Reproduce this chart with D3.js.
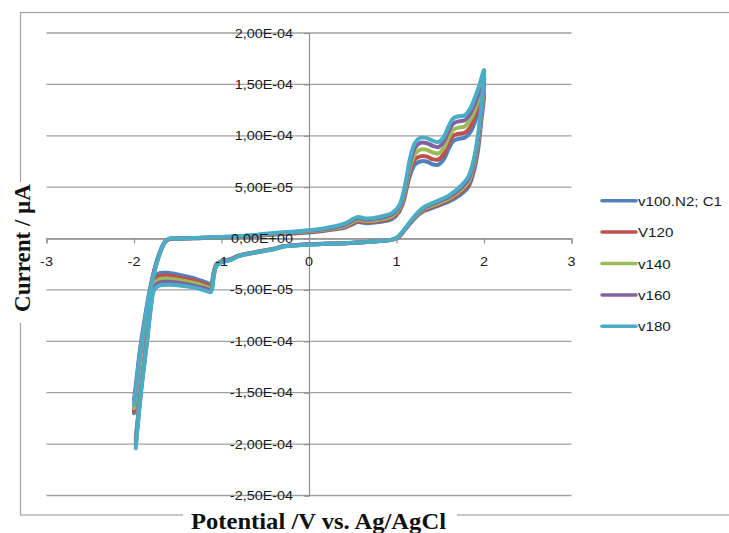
<!DOCTYPE html>
<html>
<head>
<meta charset="utf-8">
<script src="https://cdn.jsdelivr.net/npm/d3@7"></script>
<style>
  body { margin: 0; background: #ffffff; }
  svg { display: block; }
</style>
</head>
<body>
<svg id="chart" width="729" height="533"></svg>
<script>
// Cyclic voltammograms at five scan rates (current in A, potential in V vs. Ag/AgCl)

// Anodic sweep, -2 V -> +2 V
const forwardPotential = [-2.0, -1.97, -1.93, -1.88, -1.82, -1.76, -1.7, -1.65, -1.6, -1.5,
  -1.2, -1.0, -0.7, -0.4, 0, 0.3, 0.42, 0.5, 0.56, 0.65,
  0.8, 0.95, 1.03, 1.08, 1.12, 1.16, 1.21, 1.27, 1.34, 1.42,
  1.48, 1.54, 1.6, 1.65, 1.71, 1.78, 1.84, 1.9, 1.95, 2.0];

// Cathodic sweep, +2 V -> -2 V
const reversePotential = [1.97, 1.93, 1.88, 1.82, 1.72, 1.6, 1.45, 1.32, 1.25, 1.18,
  1.1, 1.02, 0.95, 0.7, 0.4, 0, -0.3, -0.38, -0.6, -0.8,
  -0.9, -1.0, -1.06, -1.09, -1.12, -1.17, -1.3, -1.45, -1.6, -1.72,
  -1.77, -1.81, -1.85, -1.92, -1.98];

const v100Forward = [-17.0e-5, -14.5e-5, -11.4e-5, -8.3e-5, -5.3e-5, -2.9e-5, -1.3e-5, -0.4e-5, -0.05e-5, 0,
  0.05e-5, 0.1e-5, 0.2e-5, 0.4e-5, 0.6e-5, 0.9e-5, 1.1e-5, 1.4e-5, 1.6e-5, 1.5e-5,
  1.6e-5, 1.9e-5, 2.6e-5, 3.6e-5, 5.0e-5, 6.3e-5, 7.2e-5, 7.5e-5, 7.5e-5, 7.2e-5,
  7.2e-5, 7.7e-5, 8.8e-5, 9.5e-5, 9.7e-5, 9.8e-5, 10.3e-5, 11.4e-5, 12.6e-5, 14.0e-5];
const v100Reverse = [11.5e-5, 8.5e-5, 6.4e-5, 5.0e-5, 4.2e-5, 3.6e-5, 3.1e-5, 2.7e-5, 2.3e-5, 1.7e-5,
  0.9e-5, 0.1e-5, -0.1e-5, -0.3e-5, -0.45e-5, -0.55e-5, -0.75e-5, -0.95e-5, -1.3e-5, -1.65e-5,
  -2.0e-5, -2.2e-5, -2.5e-5, -3.3e-5, -4.4e-5, -4.3e-5, -3.9e-5, -3.6e-5, -3.35e-5, -3.4e-5,
  -4.0e-5, -6.0e-5, -9.3e-5, -14.5e-5, -19.5e-5];

const v120Forward = [-16.8e-5, -14.4e-5, -11.3e-5, -8.3e-5, -5.3e-5, -2.9e-5, -1.3e-5, -0.4e-5, -0.05e-5, 0,
  0.05e-5, 0.1e-5, 0.22e-5, 0.43e-5, 0.64e-5, 0.95e-5, 1.17e-5, 1.5e-5, 1.7e-5, 1.6e-5,
  1.7e-5, 2.05e-5, 2.75e-5, 3.8e-5, 5.3e-5, 6.7e-5, 7.7e-5, 8.0e-5, 8.0e-5, 7.7e-5,
  7.7e-5, 8.2e-5, 9.3e-5, 10.0e-5, 10.2e-5, 10.3e-5, 10.8e-5, 12.0e-5, 13.2e-5, 14.5e-5];
const v120Reverse = [12.0e-5, 8.9e-5, 6.7e-5, 5.25e-5, 4.4e-5, 3.75e-5, 3.2e-5, 2.8e-5, 2.4e-5, 1.75e-5,
  0.92e-5, 0.12e-5, -0.1e-5, -0.3e-5, -0.45e-5, -0.56e-5, -0.76e-5, -0.96e-5, -1.31e-5, -1.66e-5,
  -2.02e-5, -2.22e-5, -2.55e-5, -3.4e-5, -4.6e-5, -4.5e-5, -4.1e-5, -3.85e-5, -3.6e-5, -3.7e-5,
  -4.25e-5, -6.25e-5, -9.5e-5, -14.6e-5, -19.7e-5];

const v140Forward = [-16.5e-5, -14.2e-5, -11.2e-5, -8.3e-5, -5.3e-5, -3.0e-5, -1.35e-5, -0.4e-5, -0.05e-5, 0,
  0.07e-5, 0.12e-5, 0.25e-5, 0.47e-5, 0.7e-5, 1.03e-5, 1.27e-5, 1.62e-5, 1.83e-5, 1.72e-5,
  1.83e-5, 2.2e-5, 2.9e-5, 4.05e-5, 5.6e-5, 7.1e-5, 8.2e-5, 8.65e-5, 8.65e-5, 8.35e-5,
  8.3e-5, 8.8e-5, 9.9e-5, 10.6e-5, 10.8e-5, 10.9e-5, 11.5e-5, 12.6e-5, 13.8e-5, 15.0e-5];
const v140Reverse = [12.3e-5, 9.3e-5, 7.0e-5, 5.5e-5, 4.6e-5, 3.9e-5, 3.35e-5, 2.9e-5, 2.45e-5, 1.8e-5,
  0.95e-5, 0.15e-5, -0.1e-5, -0.3e-5, -0.45e-5, -0.57e-5, -0.77e-5, -0.97e-5, -1.32e-5, -1.67e-5,
  -2.05e-5, -2.25e-5, -2.6e-5, -3.55e-5, -4.8e-5, -4.7e-5, -4.35e-5, -4.1e-5, -3.9e-5, -4.0e-5,
  -4.5e-5, -6.5e-5, -9.7e-5, -14.7e-5, -19.9e-5];

const v160Forward = [-15.7e-5, -13.6e-5, -10.7e-5, -7.9e-5, -5.0e-5, -2.8e-5, -1.2e-5, -0.35e-5, -0.05e-5, 0,
  0.08e-5, 0.14e-5, 0.28e-5, 0.5e-5, 0.75e-5, 1.1e-5, 1.38e-5, 1.75e-5, 1.97e-5, 1.83e-5,
  1.97e-5, 2.35e-5, 3.05e-5, 4.3e-5, 5.9e-5, 7.55e-5, 8.8e-5, 9.3e-5, 9.3e-5, 9.0e-5,
  8.9e-5, 9.4e-5, 10.5e-5, 11.2e-5, 11.4e-5, 11.5e-5, 12.1e-5, 13.2e-5, 14.4e-5, 15.7e-5];
const v160Reverse = [12.6e-5, 9.6e-5, 7.3e-5, 5.75e-5, 4.8e-5, 4.05e-5, 3.5e-5, 3.0e-5, 2.55e-5, 1.85e-5,
  0.97e-5, 0.17e-5, -0.1e-5, -0.3e-5, -0.45e-5, -0.58e-5, -0.78e-5, -0.98e-5, -1.34e-5, -1.68e-5,
  -2.08e-5, -2.28e-5, -2.65e-5, -3.7e-5, -5.0e-5, -4.9e-5, -4.6e-5, -4.35e-5, -4.2e-5, -4.3e-5,
  -4.75e-5, -6.75e-5, -9.85e-5, -14.85e-5, -20.1e-5];

const v180Forward = [-16.2e-5, -14.0e-5, -11.0e-5, -8.2e-5, -5.2e-5, -3.0e-5, -1.3e-5, -0.35e-5, 0, 0,
  0.1e-5, 0.15e-5, 0.3e-5, 0.55e-5, 0.8e-5, 1.2e-5, 1.5e-5, 1.9e-5, 2.1e-5, 1.95e-5,
  2.1e-5, 2.5e-5, 3.2e-5, 4.5e-5, 6.2e-5, 8.0e-5, 9.3e-5, 9.8e-5, 9.8e-5, 9.5e-5,
  9.4e-5, 9.9e-5, 11.0e-5, 11.7e-5, 11.9e-5, 12.0e-5, 12.6e-5, 13.8e-5, 15.0e-5, 16.4e-5];
const v180Reverse = [13.0e-5, 10.0e-5, 7.6e-5, 6.0e-5, 5.0e-5, 4.2e-5, 3.6e-5, 3.1e-5, 2.6e-5, 1.9e-5,
  1.0e-5, 0.2e-5, -0.1e-5, -0.3e-5, -0.45e-5, -0.6e-5, -0.8e-5, -1.0e-5, -1.35e-5, -1.7e-5,
  -2.1e-5, -2.3e-5, -2.7e-5, -3.8e-5, -5.2e-5, -5.1e-5, -4.8e-5, -4.6e-5, -4.5e-5, -4.6e-5,
  -5.0e-5, -7.0e-5, -10.0e-5, -15.0e-5, -20.4e-5];

const seriesNames = ["v100.N2; C1", "V120", "v140", "v160", "v180"];
const seriesColors = ["#4F81BD", "#C0504D", "#9BBB59", "#8064A2", "#4BACC6"];
const seriesForward = [v100Forward, v120Forward, v140Forward, v160Forward, v180Forward];
const seriesReverse = [v100Reverse, v120Reverse, v140Reverse, v160Reverse, v180Reverse];

const xTicks = [-3, -2, -1, 0, 1, 2, 3];
const yTicks = [2.0e-4, 1.5e-4, 1.0e-4, 5.0e-5, 0, -5.0e-5, -1.0e-4, -1.5e-4, -2.0e-4, -2.5e-4];
const yTickLabels = ["2,00E-04", "1,50E-04", "1,00E-04", "5,00E-05", "0,00E+00",
  "-5,00E-05", "-1,00E-04", "-1,50E-04", "-2,00E-04", "-2,50E-04"];

const xTitle = "Potential /V vs. Ag/AgCl";
const yTitle = "Current / µA";

// ---- layout ----
const svg = d3.select("#chart");
const plot = { left: 46.5, right: 571.5, top: 33, bottom: 495.5 };
const x = d3.scaleLinear().domain([-3, 3]).range([plot.left, plot.right]);
const y = d3.scaleLinear().domain([-2.5e-4, 2.0e-4]).range([plot.bottom, plot.top]);

const tickFont = "'Liberation Sans', Arial, sans-serif";
const titleFont = "'Liberation Serif', 'Times New Roman', serif";
const textColor = "#1a1a1a";

// chart frame (its right edge runs past the page)
svg.append("rect")
  .attr("x", 20.5).attr("y", 12.5)
  .attr("width", 800).attr("height", 502.5)
  .attr("fill", "none").attr("stroke", "#a3a3a3").attr("stroke-width", 1.2);

// horizontal gridlines
svg.append("g").selectAll("line").data(yTicks).join("line")
  .attr("x1", plot.left).attr("x2", plot.right)
  .attr("y1", d => y(d)).attr("y2", d => y(d))
  .attr("stroke", "#a0a0a0").attr("stroke-width", 1.3);

// y axis through V = 0
const yAxis = d3.axisLeft(y).tickValues(yTicks).tickSize(5).tickFormat("");
svg.append("g").attr("transform", `translate(${x(0)},0)`).call(yAxis)
  .call(g => g.selectAll("path, line").attr("stroke", "#909090").attr("stroke-width", 1.2));

// x axis through I = 0
const xAxis = d3.axisBottom(x).tickValues(xTicks).tickSize(5).tickFormat("");
svg.append("g").attr("transform", `translate(0,${y(0)})`).call(xAxis)
  .call(g => g.selectAll("path, line").attr("stroke", "#909090").attr("stroke-width", 1.2));

// curves
const line = d3.line()
  .x(d => x(d[0])).y(d => y(d[1]))
  .curve(d3.curveCatmullRom.alpha(0.5));

const curves = seriesNames.map((name, i) => {
  const pts = forwardPotential.map((v, k) => [v, seriesForward[i][k]])
    .concat(reversePotential.map((v, k) => [v, seriesReverse[i][k]]));
  return { name, color: seriesColors[i], pts };
});

svg.append("g").selectAll("path").data(curves).join("path")
  .attr("d", d => line(d.pts))
  .attr("fill", "none")
  .attr("stroke", d => d.color)
  .attr("stroke-width", 4)
  .attr("stroke-linejoin", "round")
  .attr("stroke-linecap", "round");

// tick labels (drawn over the curves, as in the spreadsheet chart)
const stretch = 1.15;
svg.append("g").selectAll("text").data(xTicks).join("text")
  .attr("transform", d => `translate(${x(d)},${y(0) + 27.5}) scale(${stretch},1)`)
  .attr("text-anchor", "middle")
  .attr("font-family", tickFont).attr("font-size", 12.5).attr("fill", textColor)
  .text(d => d);

svg.append("g").selectAll("text").data(yTicks).join("text")
  .attr("transform", d => `translate(${x(0) - 16},${y(d) + 4.5}) scale(${stretch},1)`)
  .attr("text-anchor", "end")
  .attr("font-family", tickFont).attr("font-size", 12.5).attr("fill", textColor)
  .text((d, i) => yTickLabels[i]);

// axis titles, each on a white patch over the frame
svg.append("rect").attr("x", 183).attr("y", 508).attr("width", 274).attr("height", 25).attr("fill", "#fff");
svg.append("text")
  .attr("transform", `translate(318.5,529) scale(1.07,1)`)
  .attr("text-anchor", "middle")
  .attr("font-family", titleFont).attr("font-weight", "bold").attr("font-size", 23)
  .attr("fill", "#111")
  .text(xTitle);

svg.append("rect").attr("x", 10).attr("y", 182).attr("width", 22).attr("height", 141).attr("fill", "#fff");
svg.append("text")
  .attr("transform", `translate(29.5,248) rotate(-90)`)
  .attr("text-anchor", "middle")
  .attr("font-family", titleFont).attr("font-weight", "bold").attr("font-size", 23)
  .attr("fill", "#111")
  .text(yTitle);

// legend
const legend = svg.append("g").selectAll("g").data(curves).join("g")
  .attr("transform", (d, i) => `translate(602,${200.7 + i * 31.4})`);
legend.append("line")
  .attr("x1", 0).attr("x2", 34)
  .attr("stroke", d => d.color).attr("stroke-width", 3.5).attr("stroke-linecap", "round");
legend.append("text")
  .attr("transform", "translate(36,5) scale(1.12,1)")
  .attr("font-family", tickFont).attr("font-size", 13.5).attr("fill", textColor)
  .text(d => d.name);
</script>
</body>
</html>
